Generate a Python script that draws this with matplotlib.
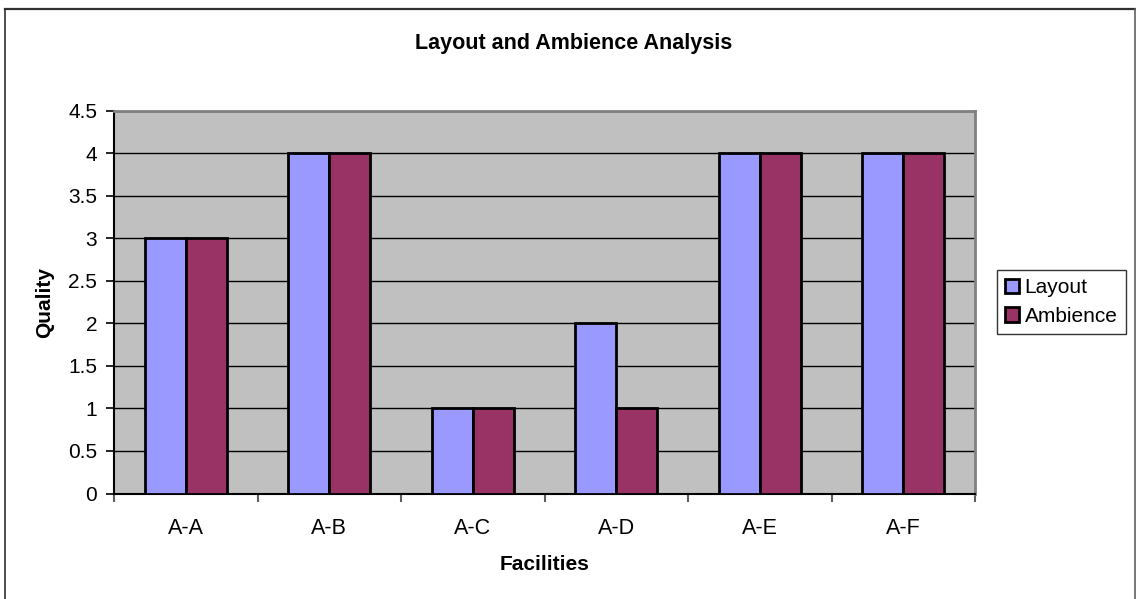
import numpy as np
import matplotlib.pyplot as plt
from matplotlib.lines import Line2D

plt.rcParams['font.family'] = ['Liberation Sans', 'DejaVu Sans']

facilities = ['A-A', 'A-B', 'A-C', 'A-D', 'A-E', 'A-F']
layout = [3, 4, 1, 2, 4, 4]
ambience = [3, 4, 1, 1, 4, 4]

W, H = 1136, 599
fig = plt.figure(figsize=(W / 100, H / 100), dpi=100)
ax = fig.add_axes([114 / W, 1 - 493.5 / H, (975 - 114) / W, (493.5 - 110.5) / H])

# chart frame: dark top and left edges, grey right edge
fig.lines.append(Line2D([5 / W, 1135 / W], [1 - 8.5 / H] * 2, transform=fig.transFigure,
                        color='#303030', lw=1.6))
fig.lines.append(Line2D([5 / W] * 2, [1 - 8.5 / H, 0], transform=fig.transFigure,
                        color='#303030', lw=1.2))
fig.lines.append(Line2D([1135 / W] * 2, [1 - 8.5 / H, 0], transform=fig.transFigure,
                        color='#606060', lw=1.2))

x = np.arange(len(facilities))
w = 1 / 3.5
ax.set_facecolor('#C0C0C0')
ax.bar(x - w / 2, layout, w, color='#9999FF', edgecolor='black', lw=2, label='Layout', zorder=3)
ax.bar(x + w / 2, ambience, w, color='#993366', edgecolor='black', lw=2, label='Ambience', zorder=3)

ax.set_xlim(-0.5, len(facilities) - 0.5)
ax.set_ylim(0, 4.5)
ax.set_yticks(np.arange(0, 4.51, 0.5))
ax.set_yticklabels(['0', '0.5', '1', '1.5', '2', '2.5', '3', '3.5', '4', '4.5'], fontsize=15)
ax.yaxis.grid(True, color='black', lw=1)
ax.set_axisbelow(True)

ax.set_xticks(np.arange(-0.5, len(facilities), 1))
ax.set_xticklabels([])
ax.set_xticks(x, minor=True)
ax.set_xticklabels(facilities, minor=True, fontsize=15.5)
ax.tick_params(axis='x', which='major', length=6, color='#606060', width=1.5)
ax.tick_params(axis='x', which='minor', length=0, pad=17.5)
ax.tick_params(axis='y', length=6, width=1.2, pad=6)

for s in ['top', 'right']:
    ax.spines[s].set_color('#808080')
    ax.spines[s].set_linewidth(2)
ax.spines['left'].set_linewidth(1.5)
ax.spines['bottom'].set_linewidth(1.5)

fig.text(573.5 / W, 1 - 43.5 / H, 'Layout and Ambience Analysis', fontsize=15.5,
         fontweight='bold', ha='center', va='center')
ax.set_ylabel('Quality', fontsize=15, fontweight='bold', labelpad=10)
ax.set_xlabel('Facilities', fontsize=15, fontweight='bold', labelpad=12)

leg = ax.legend(loc='center left', bbox_to_anchor=(1.025, 0.5), fontsize=15,
                frameon=True, fancybox=False, edgecolor='black',
                handlelength=0.7, handleheight=0.7, handletextpad=0.25,
                borderpad=0.4, labelspacing=0.45, borderaxespad=0)
leg.get_frame().set_linewidth(1)

fig.savefig('out.png', dpi=100)
